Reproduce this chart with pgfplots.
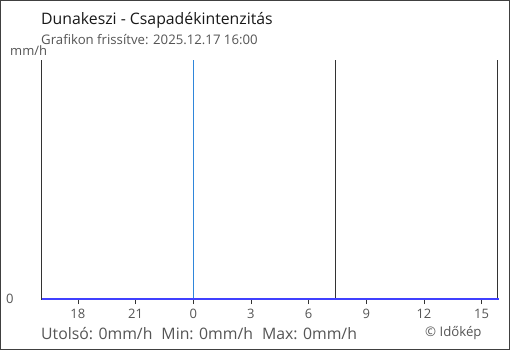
\documentclass[border=0pt]{standalone}
\usepackage{pgfplots}
\pgfplotsset{compat=1.18}
\usepackage{fontspec}
\setmainfont{Open Sans}
\definecolor{axgray}{HTML}{333333}
\definecolor{txtgray}{HTML}{555555}
\definecolor{datablue}{HTML}{4040FF}
\definecolor{midblue}{HTML}{2F86DA}
\begin{document}
\begin{tikzpicture}[x=1pt,y=1pt]
\useasboundingbox (0,0) rectangle (510,350);
\fill[white] (0,0) rectangle (510,350);
\draw[color=black!75, line width=1pt] (0.5,0.5) rectangle (509.5,349.5);
\node[anchor=base west, inner sep=0, text=black!90] at (41,325) {\fontsize{15.8}{18}\selectfont Dunakeszi - Csapadékintenzitás};
\node[anchor=base west, inner sep=0, text=txtgray] at (41,305) {\fontsize{13.2}{15}\selectfont Grafikon frissítve: 2025.12.17 16:00};
\node[anchor=base west, inner sep=0, text=txtgray] at (10,294) {\fontsize{13}{15}\selectfont mm/h};
\node[anchor=base west, inner sep=0, text=txtgray] at (6,46) {\fontsize{13}{15}\selectfont 0};
\node[anchor=base west, inner sep=0, text=txtgray] at (41,11) {\fontsize{15.8}{18}\selectfont Utolsó: 0mm/h\hspace{9pt}Min: 0mm/h\hspace{9pt}Max: 0mm/h};
\node[anchor=base west, inner sep=0, text=txtgray] at (425,14) {\fontsize{13.2}{15}\selectfont © Időkép};
\begin{axis}[
  at={(41pt,51pt)}, anchor=south west,
  scale only axis, width=456pt, height=239pt,
  xmin=-7.92, xmax=15.8, ymin=0, ymax=1,
  axis x line*=bottom, axis y line*=left,
  axis line style={-, draw=axgray},
  clip=false,
  xtick={-6,-3,0,3,6,9,12,15},
  xticklabels={18,21,0,3,6,9,12,15},
  ytick=\empty,
  tick align=outside, major tick length=5pt,
  tick style={draw=axgray, line width=0.8pt},
  xticklabel style={text=txtgray, font=\fontsize{13}{15}\selectfont, yshift=-2pt},
]
\draw[axgray, line width=0.8pt] (axis cs:-7.92,0) -- ++(-8pt,0);
\addplot[midblue, line width=1pt] coordinates {(0,0) (0,1)};
\addplot[axgray, line width=1pt] coordinates {(7.38,0) (7.38,1)};
\addplot[axgray, line width=1pt] coordinates {(15.8,0) (15.8,1)};
\addplot[datablue, line width=2pt] coordinates {(-7.87,0) (-6,0) (-3,0) (0,0) (3,0) (6,0) (9,0) (12,0) (15,0) (15.9,0)};
\end{axis}
\end{tikzpicture}
\end{document}
